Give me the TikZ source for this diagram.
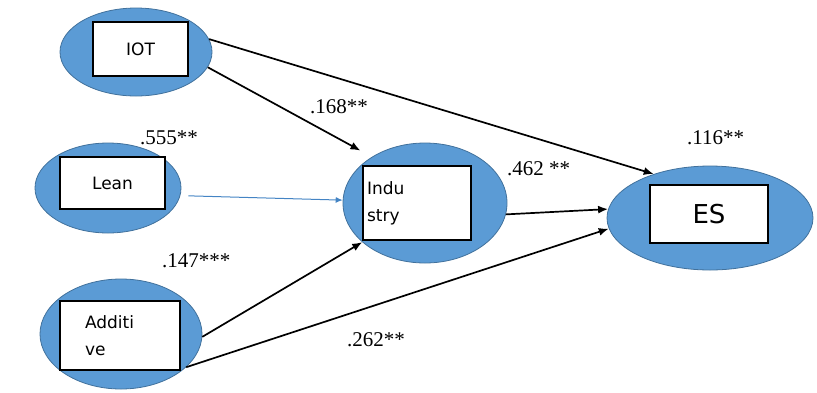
\documentclass[tikz,border=0pt]{standalone}
\usepackage{fontspec}
\setmainfont{Liberation Serif}
\newfontfamily\boxfont{DejaVu Sans}
\usetikzlibrary{shapes.geometric,arrows.meta}
\definecolor{factorblue}{RGB}{91,155,213}
\definecolor{factoredge}{RGB}{65,113,156}
\definecolor{leanblue}{RGB}{68,132,196}
\tikzset{
  factor/.style={ellipse, draw=factoredge, fill=factorblue, line width=0.8pt, inner sep=0pt},
  itembox/.style={draw, fill=white, line width=1.6pt, inner sep=3pt,
    font=\boxfont\fontsize{17}{27}\selectfont},
  effect/.style={-{Latex[length=10pt,width=8pt]}, line width=1.7pt},
  coef/.style={anchor=base west, inner sep=0pt, font=\fontsize{21}{25}\selectfont},
}

\begin{document}
\begin{tikzpicture}[x=1pt,y=-1pt]
  \useasboundingbox (0,0) rectangle (817,392);

  % latent factors
  \node[factor, minimum width=152pt, minimum height=88pt] (IotFactor) at (136,52) {};
  \node[factor, minimum width=146pt, minimum height=90pt] (LeanFactor) at (108,188) {};
  \node[factor, minimum width=162pt, minimum height=110pt] (AdditiveFactor) at (121,334) {};
  \node[factor, minimum width=164pt, minimum height=120pt] (IndustryFactor) at (425,203) {};
  \node[factor, minimum width=206pt, minimum height=104pt] (EsFactor) at (710,218) {};

  \node[itembox, minimum width=95pt, minimum height=54pt] (IotBox) at (140.5,49) {IOT};
  \node[itembox, minimum width=105pt, minimum height=52pt] (LeanBox) at (112.5,183) {Lean};
  \node[itembox, inner xsep=25pt, text width=70pt, align=left, minimum height=69pt]
    (AdditiveBox) at (120,335.5) {Additi\\ve};
  \node[itembox, inner xsep=4pt, text width=100pt, align=left, minimum height=74pt]
    (IndustryBox) at (417,203) {Indu\\stry};
  \node[itembox, minimum width=118pt, minimum height=58pt, font=\boxfont\fontsize{26}{30}\selectfont]
    (EsBox) at (709,214) {ES};

  % paths
  \draw[effect] (IotFactor.10) -- (EsFactor.142);
  \draw[effect, shorten >=13pt] (IotFactor.-12) -- (IndustryFactor.139);
  \draw[-{Latex[length=7pt,width=6pt]}, leanblue, line width=1pt, shorten <=8pt]
    (LeanFactor.-6) -- (IndustryFactor.178);
  \draw[effect] (AdditiveFactor.-2) -- (IndustryFactor.212);
  \draw[effect] (AdditiveFactor.-27) -- (EsFactor.186);
  \draw[effect] (IndustryFactor.-8) -- (EsFactor.175);

  % coefficients
  \node[coef] (CoefIot) at (310,113) {.168**};
  \node[coef] (CoefLean) at (140,144) {.555**};
  \node[coef] (CoefAdd) at (162,267) {.147***};
  \node[coef] (CoefAddEs) at (347,346) {.262**};
  \node[coef] (CoefInd) at (507,175) {.462 **};
  \node[coef] (CoefIotEs) at (687,144) {.116**};
\end{tikzpicture}
\end{document}
